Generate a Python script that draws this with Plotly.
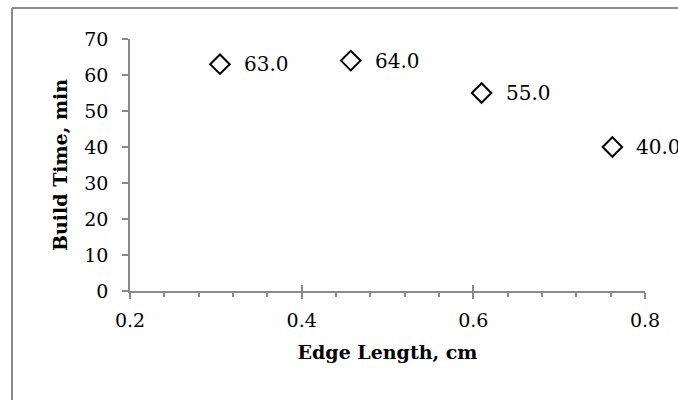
import plotly.graph_objects as go

# ---- data ----
edge_length_cm = [0.3048, 0.4572, 0.6096, 0.762]
build_time_min = [63.0, 64.0, 55.0, 40.0]
x_tick_vals = [0.2, 0.4, 0.6, 0.8]
x_tick_text = ["0.2", "0.4", "0.6", "0.8"]
y_tick_vals = [0, 10, 20, 30, 40, 50, 60, 70]
y_tick_text = ["0", "10", "20", "30", "40", "50", "60", "70"]
x_title = "Edge Length, cm"
y_title = "Build Time, min"

FONT = "DejaVu Serif"
AXIS = "#8a8a8a"

fig = go.Figure()
fig.add_trace(go.Scatter(
    x=edge_length_cm, y=build_time_min, mode="markers",
    marker=dict(symbol="diamond", size=15, color="white",
                line=dict(width=2, color="black")),
    showlegend=False, hoverinfo="skip",
))
# invisible trace on overlay axis (for crossing major ticks)
fig.add_trace(go.Scatter(x=edge_length_cm, y=build_time_min, xaxis="x2",
                         mode="markers", marker=dict(opacity=0),
                         showlegend=False, hoverinfo="skip"))

for xv, yv in zip(edge_length_cm, build_time_min):
    fig.add_annotation(x=xv, y=yv, text=f"{yv:.1f}", showarrow=False,
                       xanchor="left", yanchor="middle", xshift=22,
                       font=dict(family=FONT, size=20, color="black"))

W, H = 678, 400
L, R, T, B = 130, 33, 39, 109
pw, ph = W - L - R, H - T - B

def px_x(p):
    return (p - L) / pw

def px_y(p):
    return (H - B - p) / ph

# outer chart border (top and left visible)
fig.add_shape(type="line", xref="paper", yref="paper",
              x0=px_x(12), x1=px_x(700), y0=px_y(8), y1=px_y(8),
              line=dict(color="#8c8c8c", width=2))
fig.add_shape(type="line", xref="paper", yref="paper",
              x0=px_x(12), x1=px_x(12), y0=px_y(8), y1=px_y(420),
              line=dict(color="#8c8c8c", width=2))

fig.update_layout(
    width=W, height=H,
    margin=dict(l=L, r=R, t=T, b=B),
    paper_bgcolor="white", plot_bgcolor="white",
    font=dict(family=FONT, size=19, color="black"),
    xaxis=dict(
        range=[0.2, 0.8], tickvals=x_tick_vals, ticktext=x_tick_text,
        ticks="outside", ticklen=6, tickwidth=1.5, tickcolor=AXIS,
        showline=True, linecolor=AXIS, linewidth=1.5,
        showgrid=False, zeroline=False,
        minor=dict(ticks="outside", ticklen=4, tickwidth=1.5, tickcolor=AXIS,
                   dtick=0.04, tick0=0.2, showgrid=False),
        tickfont=dict(family=FONT, size=19),
        ticklabelstandoff=5,
        title=dict(text=f"<b>{x_title}</b>", standoff=16,
                   font=dict(family=FONT, size=19)),
    ),
    xaxis2=dict(
        overlaying="x", matches="x", range=[0.2, 0.8],
        tickvals=x_tick_vals, ticks="inside", ticklen=6, tickwidth=1.5,
        tickcolor=AXIS, showticklabels=False, showline=False,
        showgrid=False, zeroline=False, side="bottom", anchor="y",
    ),
    yaxis=dict(
        range=[0, 70], tickvals=y_tick_vals, ticktext=y_tick_text,
        ticks="outside", ticklen=6, tickwidth=1.5, tickcolor=AXIS,
        showline=True, linecolor=AXIS, linewidth=1.5,
        showgrid=False, zeroline=False,
        tickfont=dict(family=FONT, size=19),
        ticklabelstandoff=10,
        title=dict(text=f"<b>{y_title}</b>", standoff=12,
                   font=dict(family=FONT, size=19)),
    ),
)

fig.write_html("out.html", config={"displayModeBar": False},
               post_script="document.body.style.margin='0px';document.body.style.overflow='hidden';")
